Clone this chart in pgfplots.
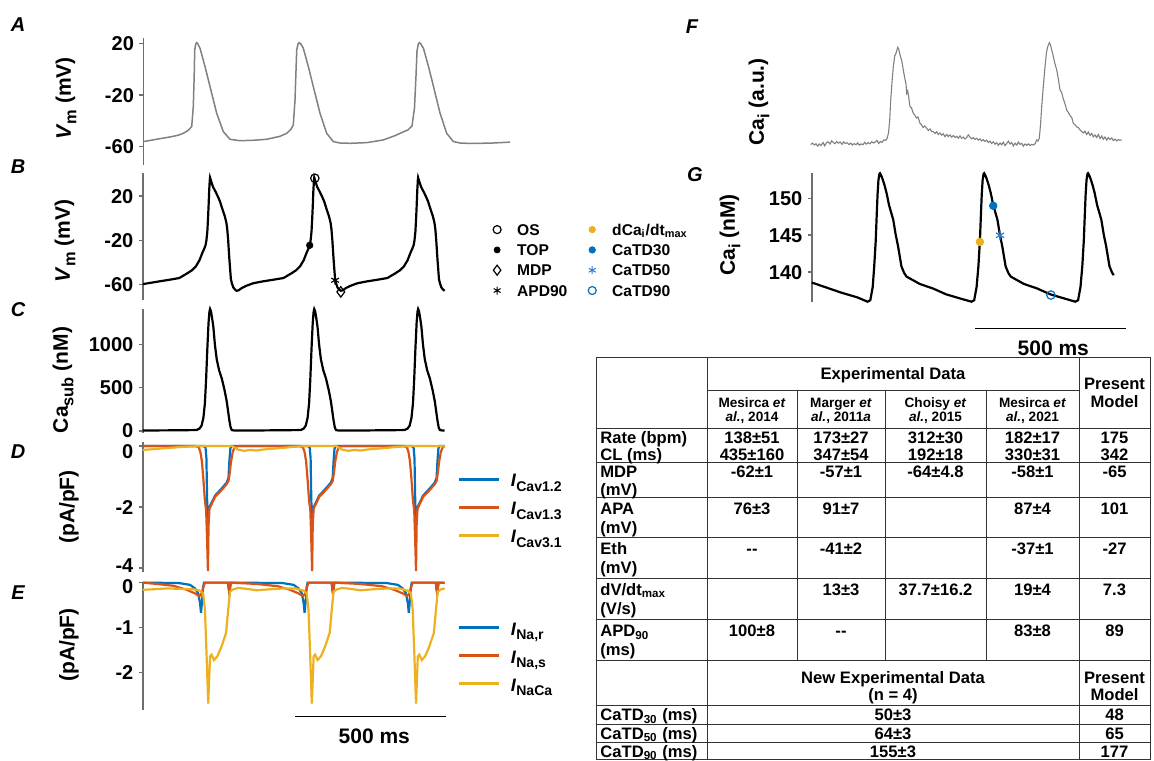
\documentclass[border=0pt]{standalone}
\usepackage{fontspec}
\setmainfont{Liberation Sans}
\usepackage{graphicx}
\usepackage{pgfplots}
\pgfplotsset{compat=1.18}
\definecolor{mblue}{RGB}{0,114,189}
\definecolor{morange}{RGB}{217,83,25}
\definecolor{myellow}{RGB}{237,177,32}
\definecolor{agray}{RGB}{128,128,128}
\definecolor{axgray}{RGB}{110,110,110}
\definecolor{lblue}{RGB}{50,125,205}
\newcommand\sub[1]{\raisebox{-0.5ex}{\scalebox{0.78}{#1}}}
\pgfplotsset{
  panel/.style={
    scale only axis, clip=false, anchor=south west,
    axis x line=none, axis y line*=left,
    axis line style={axgray, line width=0.8pt},
    ytick style={axgray, line width=0.8pt},
    major tick length=2pt, tick align=outside,
    yticklabel style={font=\fontsize{10}{12}\selectfont\bfseries, text=black, inner xsep=2.5pt, inner ysep=0pt, text height=7.1pt, text depth=0pt},
    xtick=\empty,
  },
  lgd/.style={
    legend style={at={(1.0407,#1)}, anchor=north west, draw=none, fill=none, inner sep=0pt,
      font=\fontsize{9}{10}\selectfont\bfseries,
      nodes={inner sep=0pt, text height=7.5pt, text depth=6.5pt}},
    legend cell align=left,
    legend image code/.code={\draw[##1, line width=1.6pt] (0pt,3.2pt) -- (20.25pt,3.2pt); \path[draw=none,fill=none] (0pt,0pt) rectangle (26pt,1pt);},
  },
}
\tikzset{
  ylab/.style={rotate=90, font=\fontsize{10.5}{12}\selectfont\bfseries, anchor=center, inner sep=0pt},
  plbl/.style={font=\fontsize{10}{12}\selectfont\bfseries\itshape, anchor=center, inner sep=0pt},
  tt/.style={font=\fontsize{8.3}{10}\selectfont\bfseries, inner sep=0pt, text height=6pt, text depth=0pt},
  th/.style={font=\fontsize{6.8}{8}\selectfont\bfseries, inner sep=0pt, text height=4.9pt, text depth=0pt},
  tline/.style={line width=0.5pt, black!80},
}
\begin{document}
\begin{tikzpicture}
\path[use as bounding box] (0,0) rectangle (577pt,380pt);

% ---------------- A ----------------
\begin{axis}[panel, at={(71.65pt,297.5pt)}, width=183.35pt, height=63.5pt,
  xmin=143.3, xmax=510, ymin=-74.2, ymax=24.1,
  ytick={-60,-20,20}, yticklabels={-60,-20,20}]
\addplot[agray, line width=0.75pt] coordinates {
(143.3,-56.1) (150,-55.2) (160,-53.8) (170,-52.5) (178,-51.2) (183.3,-49.7) (188,-47.5) (191.7,-44.5) (193.3,-29) (194.2,-5) (194.7,14.8) (195.7,19.5) (196.7,20.5) (198,19.3) (200,16.2) (205,2) (210,-13.5) (216.7,-34.2) (223.3,-48.4) (230,-54.3) (240,-55.4) (255,-55) (266.7,-54.3) (280,-52) (286.7,-49.7) (291,-46.5) (293.3,-43.2) (295,-23.9) (296.7,14.8) (298,19.5) (299.3,20.5) (301,19.3) (303.3,16.2) (308.3,2) (313.3,-13.5) (320,-34.2) (326.7,-49.7) (333.3,-56.1) (340,-57.2) (350,-57.4) (366.7,-56.9) (383.3,-54.8) (395,-51.5) (400,-49.7) (408,-47) (412,-44) (414.5,-30) (416,-5) (417,14) (418.3,19.5) (419.5,20.5) (421,19.3) (423.5,16) (428.5,2) (433.5,-13.5) (440,-34) (446.7,-49.7) (453.3,-56) (460,-57.2) (470,-57.5) (490,-57.3) (510,-56.5)};
\end{axis}

% ---------------- B ----------------
\begin{axis}[panel, at={(71.35pt,230pt)}, width=151pt, height=63.5pt,
  xmin=0, xmax=1000, ymin=-73.8, ymax=40.7,
  ytick={-60,-20,20}, yticklabels={-60,-20,20},
  legend columns=2,
  legend style={at={(1.116,0.623)}, anchor=north west, draw=none, fill=none, inner sep=0pt,
    font=\fontsize{7.8}{9}\selectfont\bfseries,
    nodes={inner sep=0pt, text height=7pt, text depth=3.15pt},
    /tikz/every even column/.append style={column sep=3.9pt}},
  legend cell align=left,
  legend image code/.code={\draw[#1] plot coordinates {(8.5pt,0.9pt)}; \path[draw=none,fill=none] (0pt,0pt) rectangle (18.5pt,1pt);}]
\addplot[black, line width=1.1pt, forget plot] coordinates {
(0,-59.5) (22,-58.5) (55,-57) (90,-55.5) (121,-54) (146,-50) (163,-47) (176,-43.5) (188,-38) (198,-31) (203,-28) (208,-24.5) (211,-20) (214,-12) (216,-2) (218,10) (220,24) (222,34) (223,36.5) (227,33) (233,28) (239,25) (248,20) (256,15) (264,8) (272,1.5) (277,-4) (280,-10) (283,-20) (287,-37) (292,-55) (295,-58.5) (300,-62.5) (306,-64.5) (311,-65.5) (318,-65) (328,-63) (343,-61) (366,-58.7) (398,-57) (433,-55.5) (466,-54) (491,-50) (508,-47) (521,-43.5) (533,-38) (543,-31) (548,-28) (553,-24.5) (556,-20) (559,-12) (561,-2) (563,10) (565,24) (567,34) (568,36.5) (572,33) (578,28) (584,25) (593,20) (601,15) (609,8) (617,1.5) (622,-4) (625,-10) (628,-20) (632,-37) (637,-55) (640,-58.5) (645,-62.5) (651,-64.5) (656,-65.5) (663,-65) (673,-63) (688,-61) (711,-58.7) (743,-57) (778,-55.5) (810,-54) (835,-50) (852,-47) (865,-43.5) (877,-38) (887,-31) (892,-28) (897,-24.5) (900,-20) (903,-12) (905,-2) (907,10) (909,24) (911,34) (912,36.5) (916,33) (922,28) (928,25) (937,20) (945,15) (953,8) (961,1.5) (966,-4) (969,-10) (972,-20) (976,-37) (981,-55) (984,-58.5) (989,-62.5) (995,-64.5) (1000,-65.5)};
\addplot[only marks, mark=o, mark size=2.1pt, black, line width=0.6pt, forget plot] coordinates {(570,36)};
\addplot[only marks, mark=*, mark size=1.6pt, black, forget plot] coordinates {(553,-24.5)};
\addplot[only marks, mark=asterisk, mark size=2.2pt, black, line width=0.6pt, forget plot] coordinates {(637,-56)};
\addplot[only marks, mark=diamond, mark size=2.6pt, black, line width=0.6pt, mark options={fill=white}, forget plot] coordinates {(656,-66.5)};
\addlegendimage{only marks, mark=o, black, mark size=2pt, line width=0.6pt}
\addlegendentry{OS}
\addlegendimage{only marks, mark=*, myellow, mark size=1.6pt}
\addlegendentry{dCa\textsubscript{i}/dt\textsubscript{max}}
\addlegendimage{only marks, mark=*, black, mark size=1.5pt}
\addlegendentry{TOP}
\addlegendimage{only marks, mark=*, mblue, mark size=1.6pt}
\addlegendentry{CaTD30}
\addlegendimage{only marks, mark=diamond, black, mark size=2.5pt, line width=0.6pt, mark options={fill=white}}
\addlegendentry{MDP}
\addlegendimage{only marks, mark=asterisk, lblue, mark size=2pt, line width=0.5pt}
\addlegendentry{CaTD50}
\addlegendimage{only marks, mark=asterisk, black, mark size=2pt, line width=0.5pt}
\addlegendentry{APD90}
\addlegendimage{only marks, mark=o, mblue, mark size=2pt, line width=0.6pt}
\addlegendentry{CaTD90}
\end{axis}

% ---------------- C ----------------
\begin{axis}[panel, at={(71.35pt,163.5pt)}, width=151pt, height=62pt,
  xmin=0, xmax=1000, ymin=-26, ymax=1410,
  ytick={0,500,1000}, yticklabels={0,500,1000}]
\addplot[black, line width=1.1pt] coordinates {
(0,3) (100,5) (178,8) (188,25) (195,60) (201,150) (206,320) (210,600) (214,950) (218,1250) (221,1380) (223,1410) (226,1385) (230,1300) (234,1200) (239,1000) (245,829) (253,700) (262,604) (271,470) (278,345) (283,220) (287,120) (291,40) (295,8) (303,3) (400,4) (523,8) (533,25) (540,60) (546,150) (551,320) (555,600) (559,950) (563,1250) (566,1380) (568,1410) (571,1385) (575,1300) (579,1200) (584,1000) (590,829) (598,700) (607,604) (616,470) (623,345) (628,220) (632,120) (636,40) (640,8) (648,3) (750,4) (867,8) (877,25) (884,60) (890,150) (895,320) (899,600) (903,950) (907,1250) (910,1380) (912,1410) (915,1385) (919,1300) (923,1200) (928,1000) (934,829) (942,700) (951,604) (960,470) (967,345) (972,220) (976,120) (980,40) (984,8) (992,3) (1000,3)};
\end{axis}

% ---------------- D ----------------
\begin{axis}[panel, lgd=0.7715, at={(71.35pt,94.15pt)}, width=151pt, height=65pt,
  xmin=0, xmax=1000, ymin=-4.12, ymax=0.14,
  ytick={-4,-2,0}, yticklabels={\raisebox{1.5pt}{-4},-2,\raisebox{-2.5pt}{0}}]
\addplot[mblue, line width=1.1pt] coordinates {
(0,0) (201,0) (208,-0.05) (211,-0.4) (213,-1.6) (215,-2.5) (216,-2.6) (218,-2.2) (221,-2.0) (226,-1.9) (240,-1.62) (256,-1.45) (266,-1.34) (278,-1.2) (284,-1.05) (287,-0.5) (290,-0.1) (293,0)
(546,0) (553,-0.05) (556,-0.4) (558,-1.6) (560,-2.5) (561,-2.6) (563,-2.2) (566,-2.0) (571,-1.9) (585,-1.62) (601,-1.45) (611,-1.34) (623,-1.2) (629,-1.05) (632,-0.5) (635,-0.1) (638,0)
(890,0) (897,-0.05) (900,-0.4) (902,-1.6) (904,-2.5) (905,-2.6) (907,-2.2) (910,-2.0) (915,-1.9) (929,-1.62) (945,-1.45) (955,-1.34) (967,-1.2) (973,-1.05) (976,-0.5) (979,-0.1) (982,0) (1000,0)};
\addlegendentry{\textit{I}\sub{Cav1.2}}
\addplot[morange, line width=1.1pt] coordinates {
(0,0) (176,0) (186,-0.05) (191,-0.2) (196,-0.5) (201,-1.1) (206,-1.8) (210,-2.1) (213,-3.0) (216,-4.1) (218,-2.6) (221,-2.05) (226,-1.95) (240,-1.66) (256,-1.5) (266,-1.39) (278,-1.25) (284,-1.15) (288,-0.9) (292,-0.55) (298,-0.2) (304,-0.05) (316,0)
(521,0) (531,-0.05) (536,-0.2) (541,-0.5) (546,-1.1) (551,-1.8) (555,-2.1) (558,-3.0) (561,-4.1) (563,-2.6) (566,-2.05) (571,-1.95) (585,-1.66) (601,-1.5) (611,-1.39) (623,-1.25) (629,-1.15) (633,-0.9) (637,-0.55) (643,-0.2) (649,-0.05) (661,0)
(865,0) (875,-0.05) (880,-0.2) (885,-0.5) (890,-1.1) (895,-1.8) (899,-2.1) (902,-3.0) (905,-4.1) (907,-2.6) (910,-2.05) (915,-1.95) (929,-1.66) (945,-1.5) (955,-1.39) (967,-1.25) (973,-1.15) (977,-0.9) (981,-0.55) (987,-0.2) (993,-0.05) (1000,0)};
\addlegendentry{\textit{I}\sub{Cav1.3}}
\addplot[myellow, line width=1.1pt] coordinates {
(0,-0.13) (40,-0.1) (80,-0.07) (130,-0.03) (180,-0.01) (200,0) (296,0) (306,-0.06) (316,-0.12) (336,-0.16) (356,-0.13) (376,-0.15) (396,-0.12) (416,-0.1) (456,-0.07) (496,-0.03) (531,-0.01) (545,0) (641,0) (651,-0.06) (661,-0.12) (681,-0.16) (701,-0.13) (721,-0.15) (741,-0.12) (761,-0.1) (801,-0.07) (841,-0.03) (876,-0.01) (890,0) (985,0) (1000,-0.02)};
\addlegendentry{\textit{I}\sub{Cav3.1}}
\end{axis}

% ---------------- E ----------------
\begin{axis}[panel, lgd=0.7038, at={(71.35pt,25pt)}, width=151pt, height=64.15pt,
  xmin=0, xmax=1000, ymin=-2.83, ymax=0.02,
  ytick={-2,-1,0}, yticklabels={-2,-1,\raisebox{-2pt}{0}}]
\addplot[mblue, line width=1.1pt] coordinates {
(0,0) (120,-0.01) (157,-0.05) (173,-0.13) (184,-0.24) (190,-0.46) (193,-0.67) (197,-0.38) (200,-0.1) (203,0) (282,0) (285,-0.15) (287,-0.24) (289,-0.15) (292,0)
(463,-0.01) (500,-0.05) (516,-0.13) (527,-0.24) (533,-0.46) (536,-0.67) (540,-0.38) (543,-0.1) (546,0) (625,0) (628,-0.15) (630,-0.24) (632,-0.15) (635,0)
(808,-0.01) (845,-0.05) (861,-0.13) (872,-0.24) (878,-0.46) (881,-0.67) (885,-0.38) (888,-0.1) (891,0) (970,0) (973,-0.15) (975,-0.24) (977,-0.15) (980,0) (1000,0)};
\addlegendentry{\textit{I}\sub{Na,r}}
\addplot[morange, line width=1.1pt] coordinates {
(0,0) (46,-0.03) (101,-0.07) (146,-0.16) (173,-0.24) (188,-0.3) (195,-0.24) (201,-0.1) (206,0) (283,0) (285,-0.12) (287,-0.22) (289,-0.1) (291,0) (305,-0.005) (377,-0.03) (447,-0.08) (488,-0.16) (516,-0.24) (531,-0.3) (538,-0.24) (544,-0.1) (549,0) (626,0) (628,-0.12) (630,-0.22) (632,-0.1) (634,0) (648,-0.005) (720,-0.03) (792,-0.08) (833,-0.16) (861,-0.24) (876,-0.3) (883,-0.24) (889,-0.1) (894,0) (971,0) (973,-0.12) (975,-0.22) (977,-0.1) (979,0) (993,-0.005) (1000,-0.01)};
\addlegendentry{\textit{I}\sub{Na,s}}
\addplot[myellow, line width=1.1pt] coordinates {
(0,-0.16) (30,-0.15) (80,-0.13) (130,-0.14) (170,-0.15) (190,-0.18) (200,-0.24) (206,-0.6) (212,-1.7) (217,-2.69) (223,-1.64) (228,-1.6) (236,-1.72) (247,-1.64) (261,-1.42) (276,-1.12) (283,-0.61) (289,-0.2) (300,-0.15) (317,-0.12) (347,-0.14) (377,-0.17) (417,-0.15) (467,-0.13) (507,-0.13)
(533,-0.18) (543,-0.24) (549,-0.6) (555,-1.7) (560,-2.69) (566,-1.64) (571,-1.6) (579,-1.72) (590,-1.64) (604,-1.42) (619,-1.12) (626,-0.61) (632,-0.2) (643,-0.15) (660,-0.12) (690,-0.14) (720,-0.17) (760,-0.15) (810,-0.13) (850,-0.13)
(878,-0.18) (888,-0.24) (894,-0.6) (900,-1.7) (905,-2.69) (911,-1.64) (916,-1.6) (924,-1.72) (935,-1.64) (949,-1.42) (964,-1.12) (971,-0.61) (977,-0.2) (988,-0.15) (1000,-0.13)};
\addlegendentry{\textit{I}\sub{NaCa}}
\addplot[black, line width=0.6pt, forget plot] coordinates {(504,-2.98) (1004,-2.98)};
\node[font=\fontsize{10.5}{12}\selectfont\bfseries] at (axis cs:767,-3.42) {500 ms};
\end{axis}

% ---------------- F ----------------
\begin{axis}[scale only axis, hide axis, clip=false, anchor=south west, at={(405pt,305pt)}, width=156pt, height=55pt,
  xmin=810, xmax=1122, ymin=-150, ymax=-40]
\addplot[agray, line width=0.55pt] coordinates {
(810.7,-144.5) (812.5,-143.2) (814.3,-145.0) (816,-143.8) (817.7,-146.2) (819.3,-144.0) (821,-145.5) (823,-142.5) (824.7,-145.8) (826.3,-143.0) (828,-141.8) (830,-144.0) (831.7,-140.8) (833.3,-142.5) (835,-143.7) (836.7,-141.5) (838.3,-143.2) (840,-142.0) (842,-144.3) (843.7,-141.9) (845.3,-143.4) (847,-142.8) (849,-144.6) (850.7,-143.1) (852.3,-145.0) (854,-143.6) (856,-144.8) (857.7,-142.9) (859.3,-145.2) (861,-143.9) (863,-144.7) (864.7,-142.3) (866.3,-144.1) (868,-142.6) (870,-143.8) (871.7,-141.7) (873.3,-143.0) (875,-142.2) (877,-140.5) (878.7,-143.5) (880.3,-141.6) (882,-142.3) (884,-139.8) (885.7,-140.5) (887,-138.5) (888.5,-133) (889.7,-120) (890.7,-100) (892,-82) (893.3,-66.7) (894.7,-56) (896,-53.3) (897.7,-47.3) (898.7,-49) (900,-55) (901.7,-60.5) (903.3,-70) (904.7,-78) (906,-84) (906.7,-93.3) (907.7,-91) (908.7,-97) (910,-106.7) (911.5,-108) (913.3,-113.3) (915,-115.5) (916.5,-118) (918,-117) (920,-123.3) (921.7,-125) (923,-127.5) (924.7,-126) (926.7,-128.3) (928.3,-130.5) (930,-129) (931.7,-131.5) (933.3,-131.7) (935,-133.5) (936.7,-131.8) (938.3,-134.5) (940,-133) (941.7,-135.2) (943.3,-133.8) (945,-136.7) (946.7,-134.5) (948.3,-136.5) (950,-135.0) (951.7,-137.2) (953.3,-135.5) (955,-137.5) (956.7,-136.3) (958.3,-138.2) (960,-135.9) (961.7,-138.4) (963.3,-137.1) (965,-139.0) (966.7,-137.5) (968.3,-134.8) (970,-137.2) (971.7,-138.9) (973.3,-137.6) (975,-139.5) (976.7,-138.3) (978.3,-140.1) (980,-138.9) (981.7,-141.0) (983.3,-139.6) (985,-141.5) (986.7,-140.2) (988.3,-142.6) (990,-141.1) (991.7,-143.5) (993.3,-141.8) (995,-144.2) (996.7,-142.7) (998.3,-145.3) (1000,-143.0) (1001.7,-144.8) (1003.3,-142.2) (1005,-145.6) (1006.7,-143.5) (1008.3,-141.2) (1010,-144.0) (1011.7,-142.5) (1013.3,-146.0) (1015,-143.2) (1016.7,-145.1) (1018.3,-142.0) (1020,-144.4) (1021.7,-143.3) (1023.3,-146.2) (1025,-144.0) (1026.7,-145.3) (1028.3,-143.9) (1030,-145.5) (1031.7,-144.5) (1033.3,-145.0) (1035,-143.8) (1036.7,-140.0) (1038,-141.0) (1039.3,-138) (1040.5,-125) (1041.7,-106.7) (1043,-90) (1045,-66.7) (1046.5,-52) (1047.7,-46.7) (1049.3,-42.7) (1050.5,-45) (1051.7,-50) (1053,-55) (1054.5,-62) (1056.7,-70) (1058,-77) (1060,-90) (1061.5,-92) (1063,-98) (1065,-104) (1066.7,-110) (1068,-112) (1070,-115.5) (1071.7,-117.5) (1073.3,-123.3) (1075,-124.8) (1076.7,-127) (1078.3,-127.5) (1080,-130) (1081.7,-131.5) (1083.3,-133) (1085,-131.2) (1086.7,-134.5) (1088.3,-132.0) (1090,-135.5) (1091.7,-133.5) (1093.3,-136.8) (1095,-135) (1096.7,-137.5) (1098.3,-134.5) (1100,-138.5) (1101.7,-136.0) (1103.3,-139.2) (1105,-137.0) (1106.7,-140.1) (1108.3,-137.6) (1110,-139.5) (1111.7,-138.0) (1113.3,-140.6) (1115,-139.2) (1116.7,-140.9) (1118.3,-139.6) (1120,-140.3) (1121.7,-139.8)};
\end{axis}

% ---------------- G ----------------
\begin{axis}[panel, at={(405.85pt,229.15pt)}, width=151pt, height=64.2pt,
  xmin=0, xmax=1000, ymin=136, ymax=153.4,
  ytick={140,145,150}, yticklabels={140,145,150}]
\addplot[black, line width=1.1pt] coordinates {
(0,138.6) (50,137.9) (100,137.2) (150,136.6) (185,136.0) (194,136.2) (202,138.0) (207,140.8) (212,144.3) (215,147.5) (218,150.5) (221,152.5) (224,153.3) (226,153.4) (229,153.2) (234,152.7) (241,151.8) (248,150.7) (256,149.1) (270,147.1) (278,145.1) (286,143.5) (297,140.8) (306,139.9) (314,139.4) (358,138.4) (401,137.8) (445,137.0) (486,136.5) (529,136.0)
(538,136.2) (546,138.0) (552,140.8) (557,144.3) (560,147.5) (563,150.5) (566,152.5) (569,153.3) (571,153.4) (574,153.2) (579,152.7) (586,151.8) (593,150.7) (601,149.1) (615,147.1) (623,145.1) (631,143.5) (642,140.8) (651,139.9) (659,139.4) (703,138.4) (746,137.8) (790,137.0) (831,136.5) (873,136.0)
(882,136.2) (890,138.0) (896,140.8) (901,144.3) (904,147.5) (907,150.5) (910,152.5) (913,153.3) (915,153.4) (918,153.2) (923,152.7) (930,151.8) (937,150.7) (945,149.1) (959,147.1) (967,145.1) (975,143.5) (986,140.8) (995,139.9) (1000,139.6)};
\addplot[only marks, mark=*, mark size=1.9pt, myellow] coordinates {(557,144.1)};
\addplot[only marks, mark=*, mark size=1.9pt, mblue] coordinates {(601,149.0)};
\addplot[only marks, mark=asterisk, mark size=2.4pt, lblue, line width=0.6pt] coordinates {(623.5,145.0)};
\addplot[only marks, mark=o, mark size=2.1pt, mblue, line width=0.6pt] coordinates {(792,136.9)};
\addplot[black, line width=0.6pt] coordinates {(540.7,132.4) (1039.7,132.4)};
\node[font=\fontsize{10.5}{12}\selectfont\bfseries] at (axis cs:800,129.7) {500 ms};
\end{axis}

% ---------------- labels & table (pixel coordinates) ----------------
\begin{scope}[x=0.5pt, y=-0.5pt, yshift=380pt]
\node[plbl] at (18,25) {A};
\node[plbl] at (18,167) {B};
\node[plbl] at (18,310) {C};
\node[plbl] at (18,452) {D};
\node[plbl] at (18,593) {E};
\node[plbl] at (692,27) {F};
\node[plbl] at (695,175) {G};
\node[ylab] at (66,98.5) {\textit{V}\sub{m} (mV)};
\node[ylab] at (65,241) {\textit{V}\sub{m} (mV)};
\node[ylab] at (63,380) {Ca\sub{sub} (nM)};
\node[ylab] at (69,507) {(pA/pF)};
\node[ylab] at (69,645) {(pA/pF)};
\node[ylab] at (759,102) {Ca\sub{i} (a.u.)};
\node[ylab] at (730,235) {Ca\sub{i} (nM)};

% table lines
\draw[tline] (596,357.5) -- (1150,357.5);
\draw[tline] (707,390.5) -- (1079,390.5);
\foreach \yy in {429,463,498,537.5,578,619.5,660.5,705,724,742,759.5}
  \draw[tline] (596,\yy) -- (1150,\yy);
\foreach \xx in {596,707,1079,1150}
  \draw[tline] (\xx,357.5) -- (\xx,759.5);
\foreach \xx in {797,885,986}
  \draw[tline] (\xx,390.5) -- (\xx,660.5);

% header
\node[tt] at (893,374) {Experimental Data};
\node[tt] at (1114.5,384) {Present};
\node[tt] at (1114.5,402) {Model};
\node[th] at (752,403) {Mesirca \textit{et}};
\node[th] at (752,417) {\textit{al.}, 2014};
\node[th] at (841,403) {Marger \textit{et}};
\node[th] at (841,417) {\textit{al.}, 2011\textit{a}};
\node[th] at (935.5,403) {Choisy \textit{et}};
\node[th] at (935.5,417) {\textit{al.}, 2015};
\node[th] at (1032.5,403) {Mesirca \textit{et}};
\node[th] at (1032.5,417) {\textit{al.}, 2021};

% rows
\node[tt, anchor=west] at (600,438) {Rate (bpm)};
\node[tt, anchor=west] at (600,455) {CL (ms)};
\node[tt] at (752,438) {138±51};   \node[tt] at (752,455) {435±160};
\node[tt] at (841,438) {173±27};   \node[tt] at (841,455) {347±54};
\node[tt] at (935.5,438) {312±30}; \node[tt] at (935.5,455) {192±18};
\node[tt] at (1032.5,438) {182±17};\node[tt] at (1032.5,455) {330±31};
\node[tt] at (1114.5,438) {175};   \node[tt] at (1114.5,455) {342};

\node[tt, anchor=west] at (600,472) {MDP};
\node[tt, anchor=west] at (600,490) {(mV)};
\node[tt] at (752,472) {-62±1};
\node[tt] at (841,472) {-57±1};
\node[tt] at (935.5,472) {-64±4.8};
\node[tt] at (1032.5,472) {-58±1};
\node[tt] at (1114.5,472) {-65};

\node[tt, anchor=west] at (600,508) {APA};
\node[tt, anchor=west] at (600,527) {(mV)};
\node[tt] at (752,508) {76±3};
\node[tt] at (841,508) {91±7};
\node[tt] at (1032.5,508) {87±4};
\node[tt] at (1114.5,508) {101};

\node[tt, anchor=west] at (600,548.5) {Eth};
\node[tt, anchor=west] at (600,567.5) {(mV)};
\node[tt] at (752,548.5) {-{}-};
\node[tt] at (841,548.5) {-41±2};
\node[tt] at (1032.5,548.5) {-37±1};
\node[tt] at (1114.5,548.5) {-27};

\node[tt, anchor=west] at (600,589) {dV/dt\textsubscript{max}};
\node[tt, anchor=west] at (600,608) {(V/s)};
\node[tt] at (841,589) {13±3};
\node[tt] at (935.5,589) {37.7±16.2};
\node[tt] at (1032.5,589) {19±4};
\node[tt] at (1114.5,589) {7.3};

\node[tt, anchor=west] at (600,630.5) {APD\textsubscript{90}};
\node[tt, anchor=west] at (600,649.5) {(ms)};
\node[tt] at (752,630.5) {100±8};
\node[tt] at (841,630.5) {-{}-};
\node[tt] at (1032.5,630.5) {83±8};
\node[tt] at (1114.5,630.5) {89};

\node[tt] at (893,677) {New Experimental Data};
\node[tt] at (893,694) {(n = 4)};
\node[tt] at (1114.5,677) {Present};
\node[tt] at (1114.5,694) {Model};

\node[tt, anchor=west] at (600,714.5) {CaTD\textsubscript{30} (ms)};
\node[tt] at (893,714.5) {50±3};
\node[tt] at (1114.5,714.5) {48};
\node[tt, anchor=west] at (600,733) {CaTD\textsubscript{50} (ms)};
\node[tt] at (893,733) {64±3};
\node[tt] at (1114.5,733) {65};
\node[tt, anchor=west] at (600,751) {CaTD\textsubscript{90} (ms)};
\node[tt] at (893,751) {155±3};
\node[tt] at (1114.5,751) {177};
\end{scope}
\end{tikzpicture}
\end{document}
